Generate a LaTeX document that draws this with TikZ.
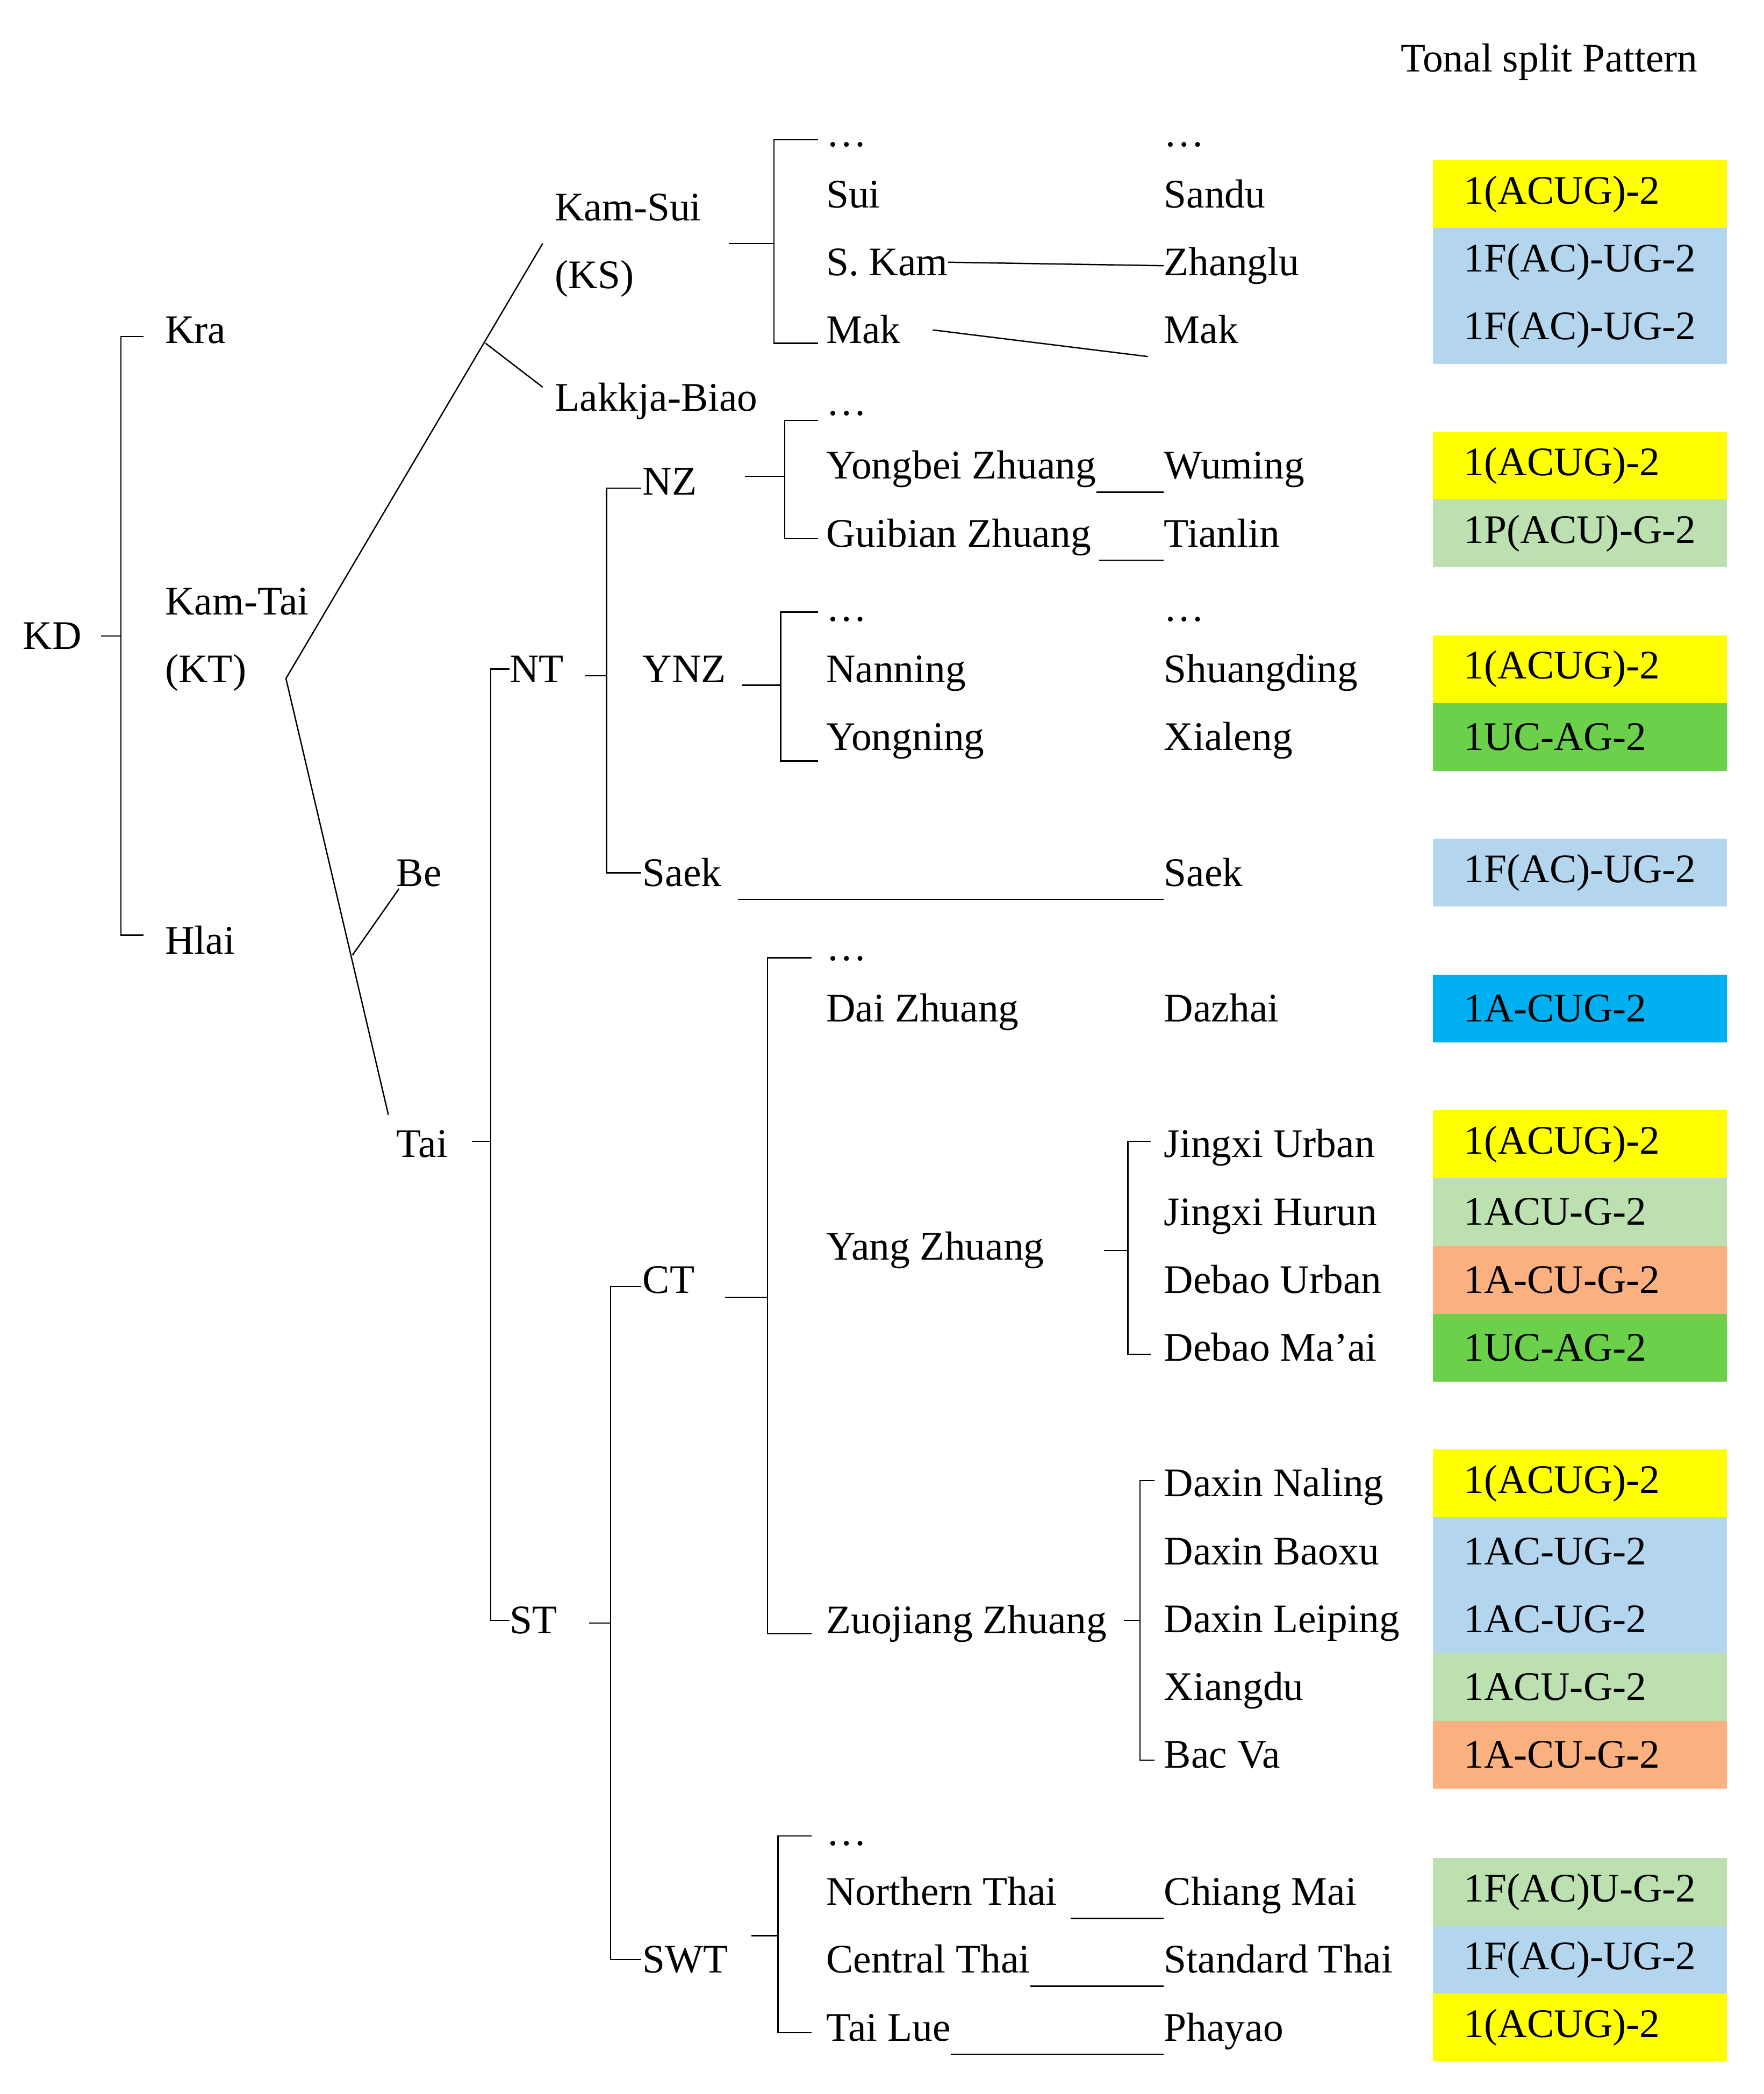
\documentclass[tikz,border=0pt]{standalone}
\usepackage{fontspec}
\setmainfont{Liberation Serif}
\definecolor{cY}{HTML}{FFFF00}
\definecolor{cLB}{HTML}{B4D5EE}
\definecolor{cLG}{HTML}{BDE0B1}
\definecolor{cG}{HTML}{6CD14A}
\definecolor{cB}{HTML}{00B0F0}
\definecolor{cO}{HTML}{FBB07F}
\begin{document}
\begin{tikzpicture}[x=1pt,y=-1pt,
  t/.style={anchor=base west,inner sep=0pt,font=\fontsize{30.5}{31}\selectfont,yshift=-10pt},
  pat/.style={anchor=west,inner sep=0pt,minimum width=221pt,minimum height=51pt,font=\fontsize{30.5}{31}\selectfont,text width=210pt,align=left},
  ln/.style={line width=1pt}]
\useasboundingbox (0,0) rectangle (1326,1574);
\node[t] at (1053,44) {Tonal split Pattern};
% left tree
\node[t] (kd) at (17,478) {KD};
\node[t] (kra) at (124,248) {Kra};
\node[t] (kt) at (124,452) {Kam-Tai};
\node[t] (kt2) at (124,503) {(KT)};
\node[t] (hlai) at (124,707) {Hlai};
\node[t] (ks) at (417,156) {Kam-Sui};
\node[t] (ks2) at (417,207) {(KS)};
\node[t] (lak) at (417,299) {Lakkja-Biao};
\node[t] (be) at (298,656) {Be};
\node[t] (tai) at (298,860) {Tai};
\node[t] (nt) at (383,503) {NT};
\node[t] (st) at (383,1218) {ST};
\node[t] (nz) at (483,362) {NZ};
\node[t] (ynz) at (483,503) {YNZ};
\node[t] (saek) at (483,656) {Saek};
\node[t] (ct) at (483,962) {CT};
\node[t] (swt) at (483,1473) {SWT};
% languages
\node[t] at (621,100) {\ldots};
\node[t] (sui) at (621,146) {Sui};
\node[t] (skam) at (621,197) {S. Kam};
\node[t] (mak) at (621,248) {Mak};
\node[t] at (621,302) {\ldots};
\node[t] (yb) at (621,350) {Yongbei Zhuang};
\node[t] (gb) at (621,401) {Guibian Zhuang};
\node[t] at (621,457) {\ldots};
\node[t] (nn) at (621,503) {Nanning};
\node[t] (yn) at (621,554) {Yongning};
\node[t] at (621,712) {\ldots};
\node[t] (dai) at (621,758) {Dai Zhuang};
\node[t] (yang) at (621,937) {Yang Zhuang};
\node[t] (zuo) at (621,1218) {Zuojiang Zhuang};
\node[t] at (621,1377) {\ldots};
\node[t] (nth) at (621,1422) {Northern Thai};
\node[t] (cth) at (621,1473) {Central Thai};
\node[t] (tl) at (621,1524) {Tai Lue};
% dialects
\node[t] at (875,100) {\ldots};
\node[t] (sandu) at (875,146) {Sandu};
\node[t] (zl) at (875,197) {Zhanglu};
\node[t] (mak2) at (875,248) {Mak};
\node[t] (wm) at (875,350) {Wuming};
\node[t] (tlin) at (875,401) {Tianlin};
\node[t] at (875,457) {\ldots};
\node[t] (sd) at (875,503) {Shuangding};
\node[t] (xl) at (875,554) {Xialeng};
\node[t] (saek2) at (875,656) {Saek};
\node[t] (dz) at (875,758) {Dazhai};
\node[t] (ju) at (875,860) {Jingxi Urban};
\node[t] (jh) at (875,911) {Jingxi Hurun};
\node[t] (du) at (875,962) {Debao Urban};
\node[t] (dm) at (875,1013) {Debao Ma’ai};
\node[t] (dn) at (875,1115) {Daxin Naling};
\node[t] (db) at (875,1166) {Daxin Baoxu};
\node[t] (dl) at (875,1217) {Daxin Leiping};
\node[t] (xd) at (875,1268) {Xiangdu};
\node[t] (bv) at (875,1319) {Bac Va};
\node[t] (cm) at (875,1422) {Chiang Mai};
\node[t] (sth) at (875,1473) {Standard Thai};
\node[t] (ph) at (875,1524) {Phayao};
% patterns
\foreach \y/\c/\s in {146/cY/1(ACUG)-2,197/cLB/1F(AC)-UG-2,248/cLB/1F(AC)-UG-2,350/cY/1(ACUG)-2,401/cLG/1P(ACU)-G-2,503/cY/1(ACUG)-2,554/cG/1UC-AG-2,656/cLB/1F(AC)-UG-2,758/cB/1A-CUG-2,860/cY/1(ACUG)-2,911/cLG/1ACU-G-2,962/cO/1A-CU-G-2,1013/cG/1UC-AG-2,1115/cY/1(ACUG)-2,1166/cLB/1AC-UG-2,1217/cLB/1AC-UG-2,1268/cLG/1ACU-G-2,1319/cO/1A-CU-G-2,1422/cLG/1F(AC)U-G-2,1473/cLB/1F(AC)-UG-2,1524/cY/1(ACUG)-2}
  \node[pat,fill=\c] at (1077,\y) {\hspace*{18pt}\s};
% brackets
\draw[ln] (108,253) -- (91,253) -- (91,703) -- (108,703);
\draw[ln] (76,478) -- (91,478);
\draw[ln] (215,510) -- (408,183);
\draw[ln] (365,258) -- (408,291);
\draw[ln] (215,510) -- (292,838);
\draw[ln] (265,718) -- (300,668);
\draw[ln] (383,503) -- (369,503) -- (369,1218) -- (383,1218);
\draw[ln] (355,858) -- (369,858);
\draw[ln] (482,367) -- (456,367) -- (456,656) -- (482,656);
\draw[ln] (440,508) -- (456,508);
\draw[ln] (482,967) -- (459,967) -- (459,1473) -- (482,1473);
\draw[ln] (443,1220) -- (459,1220);
\foreach \a/\b/\x/\m/\l/\e in {105/258/582/183/548/615, 316/405/590/358/560/615, 460/572/587/515/558/615, 720/1228/577/975/545/610, 858/1018/848/940/830/865, 1113/1323/857/1218/845/868, 1380/1528/585/1455/565/610}
  {\draw[ln] (\e,\a) -- (\x,\a) -- (\x,\b) -- (\e,\b);
   \draw[ln] (\l,\m) -- (\x,\m);}
% connectors
\draw[ln] (skam.east) -- (zl.west);
\draw[ln] ([xshift=-8pt]mak2.west -| 708,0) ++(0,0);
\draw[ln] ([xshift=24pt]mak.base east) ++(0,-10) -- ([xshift=-12pt,yshift=-10pt]mak2.base west);
\draw[ln] ([yshift=-10pt]yb.base east) -- ([yshift=-10pt]wm.base west);
\draw[ln] ([xshift=6pt,yshift=-10pt]gb.base east) -- ([yshift=-10pt]tlin.base west);
\draw[ln] ([xshift=12pt,yshift=-10pt]saek.base east) -- ([yshift=-10pt]saek2.base west);
\draw[ln] ([xshift=10pt,yshift=-10pt]nth.base east) -- ([yshift=-10pt]cm.base west);
\draw[ln] ([yshift=-10pt]cth.base east) -- ([yshift=-10pt]sth.base west);
\draw[ln] ([yshift=-10pt]tl.base east) -- ([yshift=-10pt]ph.base west);
\end{tikzpicture}
\end{document}
